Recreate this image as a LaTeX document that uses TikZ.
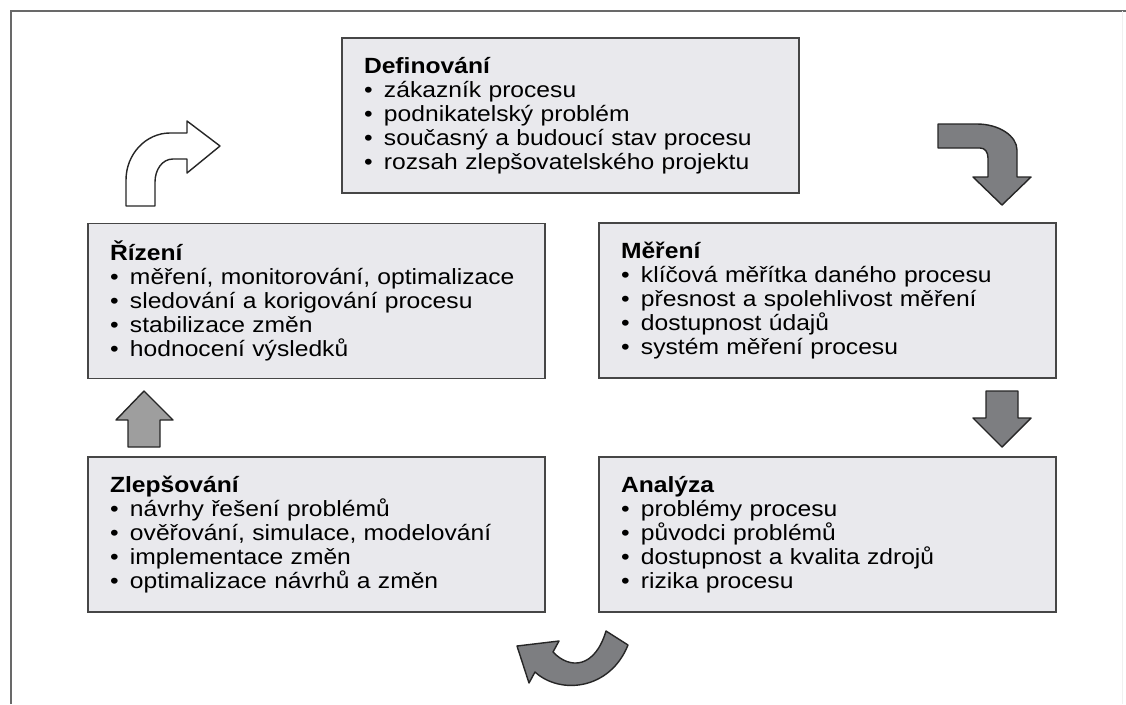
\documentclass[tikz,border=0pt]{standalone}
\usepackage{fontspec}
\setmainfont[FakeStretch=1.12]{Liberation Sans}
\definecolor{boxfill}{RGB}{233,233,237}
\definecolor{boxline}{RGB}{70,70,70}
\definecolor{arrgray}{RGB}{125,126,129}
\definecolor{arrlight}{RGB}{158,158,158}
\definecolor{framegray}{RGB}{105,105,105}
\newcommand\bitem{\makebox[20pt][l]{\textbullet}}
\begin{document}
\begin{tikzpicture}[x=1pt,y=-1pt,
  stagebox/.style={draw=boxline, fill=boxfill, line width=1.6pt, rectangle,
    minimum width=457pt, minimum height=155pt, text width=413pt,
    inner xsep=22pt, inner ysep=0pt, align=left,
    font=\fontsize{22}{24}\selectfont},
  blockarrow/.style={draw=black!85, line width=1.4pt, line join=round}]
\useasboundingbox (0,0) rectangle (1126,704);
\fill[white] (0,0) rectangle (1126,704);
% frame
\draw[framegray, line width=2pt] (11,704) -- (11,11) -- (1126,11);
\draw[black!6, line width=1pt] (1122,11) -- (1122,704);

% boxes
\node[stagebox] (def) at (570.5,115.5) {\textbf{Definování}\\
\bitem zákazník procesu\\
\bitem podnikatelský problém\\
\bitem současný a budoucí stav procesu\\
\bitem rozsah zlepšovatelského projektu};

\node[stagebox] (riz) at (316.5,301) {\textbf{Řízení}\\
\bitem měření, monitorování, optimalizace\\
\bitem sledování a korigování procesu\\
\bitem stabilizace změn\\
\bitem hodnocení výsledků};

\node[stagebox] (mer) at (827.5,300.5) {\textbf{Měření}\\
\bitem klíčová měřítka daného procesu\\
\bitem přesnost a spolehlivost měření\\
\bitem dostupnost údajů\\
\bitem systém měření procesu};

\node[stagebox] (zle) at (316.5,534.5) {\textbf{Zlepšování}\\
\bitem návrhy řešení problémů\\
\bitem ověřování, simulace, modelování\\
\bitem implementace změn\\
\bitem optimalizace návrhů a změn};

\node[stagebox] (ana) at (827.5,534.5) {\textbf{Analýza}\\
\bitem problémy procesu\\
\bitem původci problémů\\
\bitem dostupnost a kvalita zdrojů\\
\bitem rizika procesu};

% outline curved arrow (top left)
\draw[blockarrow, fill=white] (126,206) -- (126,180)
  .. controls (126,154) and (146,133) .. (170,133)
  -- (187,133) -- (187,121) -- (220,146) -- (187,173) -- (187,159) -- (173,159)
  .. controls (162,159) and (155,170) .. (155,182)
  -- (155,206) -- cycle;

% grey curved arrow (top right)
\draw[blockarrow, fill=arrgray] (938,124) -- (977,124)
  .. controls (999,124) and (1017,136) .. (1017,150)
  -- (1017,177) -- (1031,177) -- (1002,205) -- (973,177) -- (988,177)
  -- (988,158) .. controls (988,152) and (985,148) .. (980,148)
  -- (938,148) -- cycle;

% straight down arrow (right)
\draw[blockarrow, fill=arrgray] (986,391) -- (1018,391) -- (1018,418) -- (1031,418)
  -- (1002,447) -- (973,418) -- (986,418) -- cycle;

% straight up arrow (left)
\draw[blockarrow, fill=arrlight] (128,447) -- (128,420) -- (116,420) -- (144,391)
  -- (173,420) -- (160,420) -- (160,447) -- cycle;

% curved arrow (bottom)
\draw[blockarrow, fill=arrgray] (517,646) -- (559,641) -- (553,652)
  .. controls (570,670) and (595,668) .. (606,631)
  -- (628,645)
  .. controls (610,690) and (560,695) .. (535,672)
  -- (529,683) -- cycle;
\end{tikzpicture}
\end{document}
